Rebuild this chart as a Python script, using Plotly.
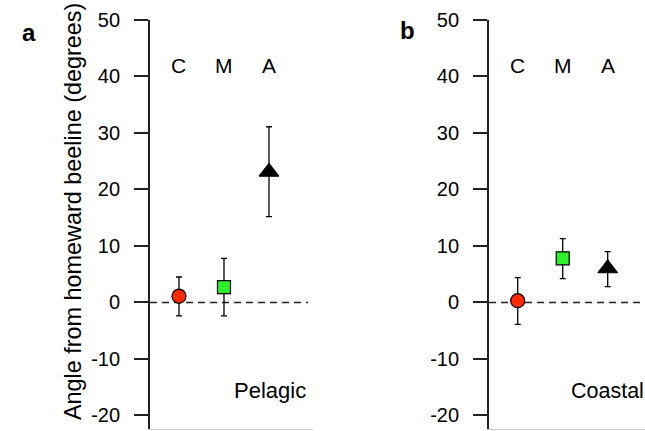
import plotly.graph_objects as go

# ---- data ----
categories = ["C", "M", "A"]
cat_pos = [1, 2, 3]
pelagic_mean = [1.1, 2.7, 23.1]
pelagic_upper = [4.5, 7.8, 31.1]
pelagic_lower = [-2.4, -2.4, 15.2]
coastal_mean = [0.3, 7.8, 6.0]
coastal_upper = [4.4, 11.3, 9.0]
coastal_lower = [-3.9, 4.2, 2.8]
tick_vals = [-20, -10, 0, 10, 20, 30, 40, 50]
tick_text = ["-20", "-10", "0", "10", "20", "30", "40", "50"]
baseline = [0, 0]

FONT = "Liberation Sans, Arial, Helvetica, sans-serif"
symbols = ["circle", "square", "triangle-up"]
colors = ["#ff2a00", "#2cf02c", "#000000"]
sizes = [14, 13, 17]

fig = go.Figure()

panels = [
    ("x", "y", pelagic_mean, pelagic_upper, pelagic_lower, [0.356, 3.87]),
    ("x2", "y2", coastal_mean, coastal_upper, coastal_lower, [0.362, 3.83]),
]
for xa, ya, mean, up, lo, dash_x in panels:
    fig.add_trace(go.Scatter(
        x=dash_x, y=baseline, mode="lines", xaxis=xa, yaxis=ya,
        line=dict(color="#222222", width=1.5, dash="7px,5px"),
        showlegend=False, hoverinfo="skip"))
    fig.add_trace(go.Scatter(
        x=cat_pos, y=mean, mode="markers", xaxis=xa, yaxis=ya,
        marker=dict(symbol=symbols, color=colors, size=sizes, opacity=1,
                    line=dict(color="#000000", width=1.2)),
        error_y=dict(type="data", symmetric=False,
                     array=[u - m for u, m in zip(up, mean)],
                     arrayminus=[m - l for m, l in zip(mean, lo)],
                     color="#000000", thickness=1.3, width=3),
        showlegend=False))

yax = dict(range=[-22.5, 50], tickvals=tick_vals, ticktext=tick_text,
           ticks="outside", ticklen=14, tickwidth=1.5, tickcolor="#222222",
           showline=True, linecolor="#222222", linewidth=1.8,
           showgrid=False, zeroline=False, ticklabelstandoff=10, automargin=False,
           tickfont=dict(family=FONT, size=20, color="#000000"))
xax = dict(showticklabels=False, ticks="", showgrid=False, zeroline=False,
           showline=True, linecolor="#cccccc", linewidth=1, automargin=False)

fig.update_layout(
    width=645, height=431,
    margin=dict(l=0, r=0, t=0, b=0, pad=0, autoexpand=False),
    paper_bgcolor="white", plot_bgcolor="white",
    xaxis=dict(domain=[150/645, 313/645], range=[0.356, 3.978], anchor="y", **xax),
    yaxis=dict(domain=[0.0035, 1 - 20/431], anchor="x", **yax),
    xaxis2=dict(domain=[489/645, 1.0], range=[0.362, 3.829], anchor="y2", **xax),
    yaxis2=dict(domain=[0.0035, 1 - 20/431], anchor="x2", **yax),
)

ann = []
for xr, yr in [("x", "y"), ("x2", "y2")]:
    for c, p in zip(categories, cat_pos):
        ann.append(dict(x=p, y=41.9, xref=xr, yref=yr, text=c, showarrow=False,
                        font=dict(family=FONT, size=21, color="#000000")))
ann.append(dict(x=3.02, y=-15.6, xref="x", yref="y", text="Pelagic", showarrow=False,
                font=dict(family=FONT, size=22, color="#000000")))
ann.append(dict(x=2.15, y=-15.6, xref="x2", yref="y2", text="Coastal", showarrow=False,
                xanchor="left", font=dict(family=FONT, size=21.5, color="#000000")))
ann.append(dict(x=20/645, y=47.8, xref="paper", yref="y", text="<b>a</b>",
                showarrow=False, font=dict(family=FONT, size=24, color="#000000")))
ann.append(dict(x=407.5/645, y=48.2, xref="paper", yref="y", text="<b>b</b>",
                showarrow=False, font=dict(family=FONT, size=24, color="#000000")))
ann.append(dict(x=58/645, y=16.0, xref="paper", yref="y",
                text="Angle from homeward beeline (degrees)", textangle=-90,
                showarrow=False, font=dict(family=FONT, size=23.4, color="#000000")))
fig.update_layout(annotations=ann)

fig.write_html("out.html")
